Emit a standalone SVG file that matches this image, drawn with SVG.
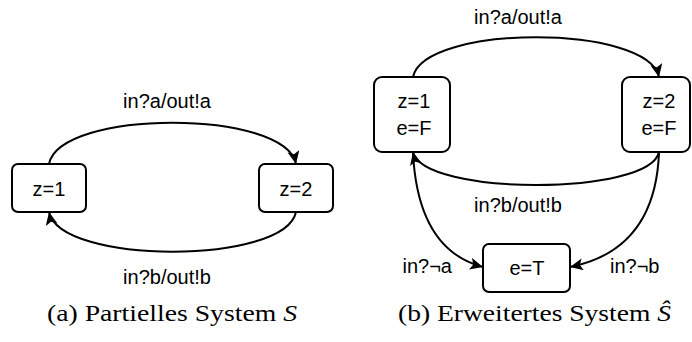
<svg xmlns="http://www.w3.org/2000/svg" width="692" height="342" viewBox="0 0 692 342">
  <style>
    .state rect { fill: #ffffff; stroke: #000000; stroke-width: 2; }
    .lbl { font-family: "Liberation Sans", Arial, sans-serif; font-size: 20px; fill: #000000; }
    .mid { text-anchor: middle; }
    .edge { fill: none; stroke: #000000; stroke-width: 2; marker-end: url(#arrow); }
    .cap { font-family: "Liberation Serif", "Times New Roman", serif; font-size: 24px; fill: #000000; }
  </style>
  <defs>
    <marker id="arrow" markerUnits="userSpaceOnUse" markerWidth="16" markerHeight="14" refX="13" refY="6" orient="auto">
      <path d="M0,0 L13,6 L0,12 L3,6 Z" fill="#000000"/>
    </marker>
  </defs>
  <rect width="692" height="342" fill="#ffffff"/>

  <!-- connectors -->
  <g id="connectors">
    <!-- partial system S -->
    <path class="edge" d="M49,164 C60,109 285,109 296,164"/>
    <path class="edge" d="M296,212 C285,265 60,265 49,212"/>
    <!-- extended system -->
    <path class="edge" d="M413,77 C424,24 648,24 659,77"/>
    <path class="edge" d="M659,152 C650,196 423,196 413,152"/>
    <path class="edge" d="M413,153 Q418,250 483,267"/>
    <path class="edge" d="M659,153 Q655,250 570,267"/>
  </g>

  <!-- edge labels -->
  <g id="edge-labels" class="lbl">
    <text class="mid" x="167" y="108">in?a/out!a</text>
    <text class="mid" x="167" y="284">in?b/out!b</text>
    <text class="mid" x="518" y="24">in?a/out!a</text>
    <text class="mid" x="518" y="212">in?b/out!b</text>
    <text x="452" y="273" text-anchor="end">in?¬a</text>
    <text x="610" y="273">in?¬b</text>
  </g>

  <!-- partial system S -->
  <g id="s-z1" class="state">
    <rect x="12" y="164" width="74" height="48" rx="6"/>
    <text class="lbl mid" x="49" y="196">z=1</text>
  </g>
  <g id="s-z2" class="state">
    <rect x="259" y="164" width="74" height="48" rx="6"/>
    <text class="lbl mid" x="296" y="196">z=2</text>
  </g>

  <!-- extended system -->
  <g id="x-z1" class="state">
    <rect x="374" y="77" width="76" height="75" rx="8"/>
    <text class="lbl mid" x="414" y="108">z=1</text>
    <text class="lbl mid" x="414" y="135">e=F</text>
  </g>
  <g id="x-z2" class="state">
    <rect x="622" y="77" width="68" height="75" rx="8"/>
    <text class="lbl mid" x="659" y="108">z=2</text>
    <text class="lbl mid" x="659" y="135">e=F</text>
  </g>
  <g id="x-err" class="state">
    <rect x="483" y="244" width="87" height="48" rx="6"/>
    <text class="lbl mid" x="527" y="275">e=T</text>
  </g>

  <!-- captions -->
  <text class="cap" x="47" y="321" textLength="250" lengthAdjust="spacingAndGlyphs">(a) Partielles System <tspan font-style="italic">S</tspan></text>
  <text class="cap" x="398" y="321" textLength="273" lengthAdjust="spacingAndGlyphs">(b) Erweitertes System <tspan font-style="italic">Ŝ</tspan></text>
</svg>
